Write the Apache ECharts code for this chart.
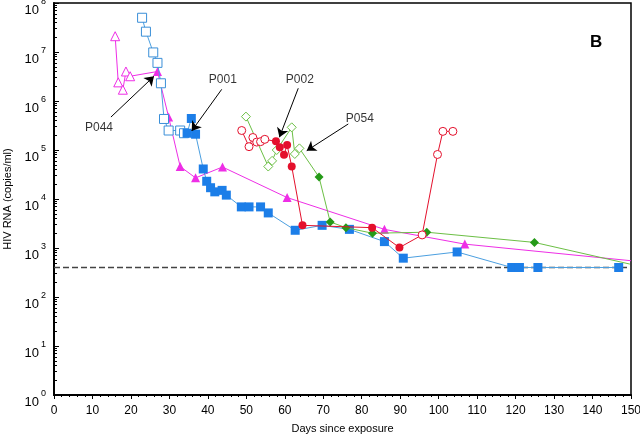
<!DOCTYPE html>
<html>
<head>
<meta charset="utf-8">
<script src="https://cdn.jsdelivr.net/npm/echarts@6/dist/echarts.min.js"></script>
<style>html,body{margin:0;padding:0;background:#fff}#c{width:640px;height:435px}</style>
</head>
<body>
<div id="c"></div>
<script>
// ---- data (days since exposure, HIV RNA copies/ml) ----
const p001 = [[22.9,5.0e7],[23.9,2.6e7],[25.8,9.8e6],[26.9,6.0e6],[27.8,2.3e6],[28.6,4.3e5],[29.8,2.5e5],[32.8,2.5e5],[33.8,2.2e5],
  [34.6,2.2e5],[35.7,4.4e5],[36.8,2.1e5],[38.8,4.1e4],[39.7,2.3e4],[40.7,1.7e4],[41.8,1.4e4],[43.7,1.5e4],[44.8,1.2e4],
  [48.7,6.9e3],[50.7,6.9e3],[53.7,6.9e3],[55.7,5.2e3],[62.7,2.3e3],[69.7,2.9e3],[76.8,2.4e3],[85.9,1.35e3],[90.8,6.2e2],
  [104.8,8.3e2],[119,4.0e2],[120,4.0e2],[121,4.0e2],[125.8,4.0e2],[146.8,4.0e2]];
const p001Open = [1,1,1,1,1,1,1,1,1];
const p044 = [[15.9,2.1e7],[16.7,2.4e6],[17.9,1.7e6],[18.7,4.0e6],[19.8,3.2e6],[26.9,4.0e6],[29.8,4.7e5],[32.8,4.6e4],
  [36.8,2.7e4],[43.8,4.5e4],[60.6,1.07e4],[85.9,2.4e3],[106.8,1.2e3],[150,5.5e2]];
const p044Open = [1,1,1,1,1];
const p044NoMarker = [13];
const p002 = [[48.8,2.5e5],[50.7,1.17e5],[51.7,1.8e5],[52.7,1.45e5],[53.7,1.48e5],[54.8,1.65e5],[57.7,1.5e5],[58.7,1.14e5],
  [59.8,8.0e4],[60.6,1.26e5],[61.8,4.6e4],[64.6,2.9e3],[82.7,2.6e3],[89.8,1.02e3],[95.7,1.85e3],[99.7,8.1e4],[101.1,2.4e5],[103.7,2.4e5]];
const p002Open = [1,1,1,1,1,1,0,0,0,0,0,0,0,0,1,1,1,1];
const p054 = [[49.9,4.8e5],[55.7,4.6e4],[56.7,6.0e4],[57.9,1.0e5],[61.8,2.9e5],[62.6,8.3e4],[63.8,1.08e5],[68.9,2.8e4],
  [71.8,3.4e3],[75.9,2.6e3],[82.8,2.0e3],[96.9,2.1e3],[124.9,1.3e3],[149.7,4.7e2]];
const p054Open = [1,1,1,1,1,1,1];
const p054NoMarker = [13];
const detectionLimit = 400;
const xTicks = {min:0, max:150, interval:10};
const labelNames = ['P044','P001','P002','P054'];
const labelPos = [[11.7,2.8e5],[43.9,2.7e6],[63.9,2.76e6],[79.5,4.45e5]];
const arrowFrom = [[14.8,4.7e5],[43.6,1.73e6],[63.5,1.82e6],[76.5,3.4e5]];
const arrowTo = [[26.0,3.2e6],[35.8,2.45e5],[58.6,1.82e5],[65.7,9.7e4]];

function build(pts, openFlags, noMarker, color) {
  return pts.map((p, i) => {
    const item = {value: p};
    if (noMarker && noMarker.indexOf(i) >= 0) {
      item.symbol = 'none';
    } else if (openFlags[i]) {
      item.itemStyle = {color: '#ffffff', borderColor: color, borderWidth: 1};
    }
    return item;
  });
}

const chart = echarts.init(document.getElementById('c'), null, {renderer: 'canvas'});
const F = 'Liberation Sans, Arial, sans-serif';
const cBlue = '#1c7ee8', cBlueLine = '#4b9fe0';
const cMag = '#ee2ee6';
const cRed = '#e4102c';
const cGreen = '#259a18', cGreenLine = '#6cbf45';

chart.setOption({
  animation: false,
  title: {text: 'B', left: 585, top: 29, textStyle: {fontFamily: F, fontSize: 17, fontWeight: 'bold', color: '#000'}},
  grid: {left: 54, top: 3, right: 9, bottom: 40, containLabel: false, outerBoundsMode: 'none',
    show: true, borderColor: '#000', borderWidth: 1.5, backgroundColor: '#fff'},
  xAxis: {
    type: 'value', min: xTicks.min, max: xTicks.max, interval: xTicks.interval,
    name: 'Days since exposure', nameLocation: 'middle', nameGap: 28,
    nameTextStyle: {fontFamily: F, fontSize: 11, color: '#000'},
    axisLine: {lineStyle: {color: '#000', width: 2}},
    axisTick: {show: true, length: 4, lineStyle: {color: '#000'}},
    minorTick: {show: true, splitNumber: 5, length: 2, lineStyle: {color: '#000'}},
    splitLine: {show: false},
    axisLabel: {fontFamily: F, fontSize: 12, color: '#000', margin: 10}
  },
  yAxis: {
    type: 'log', logBase: 10, min: 1, max: 1e8,
    name: 'HIV RNA (copies/ml)', nameLocation: 'middle', nameGap: 33, nameRotate: 90,
    nameTextStyle: {fontFamily: F, fontSize: 11, color: '#000'},
    axisLine: {lineStyle: {color: '#000', width: 2}},
    axisTick: {show: true, inside: true, length: 5, lineStyle: {color: '#000'}},
    minorTick: {show: true, splitNumber: 9, length: 3, lineStyle: {color: '#000'}},
    splitLine: {show: false},
    axisLabel: {
      fontFamily: F, color: '#000', margin: 8,
      formatter: function (v) { return '{b|10}{s|' + Math.round(Math.log10(v)) + '}'; },
      rich: {
        b: {fontFamily: F, fontSize: 13, color: '#000', padding: [14, 0, 0, 0]},
        s: {fontFamily: F, fontSize: 9, color: '#000', padding: [0, 0, 2, 2]}
      }
    }
  },
  series: [
    {
      type: 'line', name: 'limit', data: [[xTicks.min, detectionLimit], [xTicks.max, detectionLimit]],
      symbol: 'none', lineStyle: {color: '#444', width: 1.3, type: [6, 3]}, z: 1
    },
    {
      type: 'line', name: 'P044', data: build(p044, p044Open, p044NoMarker, cMag),
      symbol: 'triangle', symbolSize: 9, itemStyle: {color: cMag},
      lineStyle: {color: cMag, width: 1}, z: 3
    },
    {
      type: 'line', name: 'P001', data: build(p001, p001Open, null, '#3a8fd8'),
      symbol: 'rect', symbolSize: 9, itemStyle: {color: cBlue},
      lineStyle: {color: cBlueLine, width: 1}, z: 4
    },
    {
      type: 'line', name: 'P054', data: build(p054, p054Open, p054NoMarker, cGreenLine),
      symbol: 'diamond', symbolSize: 9, itemStyle: {color: cGreen},
      lineStyle: {color: cGreenLine, width: 1}, z: 5
    },
    {
      type: 'line', name: 'P002', data: build(p002, p002Open, null, cRed),
      symbol: 'circle', symbolSize: 8, itemStyle: {color: cRed},
      lineStyle: {color: cRed, width: 1}, z: 6
    },
    {
      type: 'scatter', name: 'annotations',
      data: labelNames.map((n, i) => ({name: n, value: labelPos[i]})),
      symbolSize: 0, z: 10,
      label: {show: true, position: 'inside', formatter: '{b}', fontFamily: F, fontSize: 12, color: '#000'},
      markLine: {
        silent: true, symbol: ['none', 'arrow'], symbolSize: 9,
        lineStyle: {color: '#000', width: 1, type: 'solid'}, label: {show: false},
        data: arrowFrom.map((a, i) => [{coord: a}, {coord: arrowTo[i]}])
      }
    }
  ]
});
</script>
</body>
</html>
